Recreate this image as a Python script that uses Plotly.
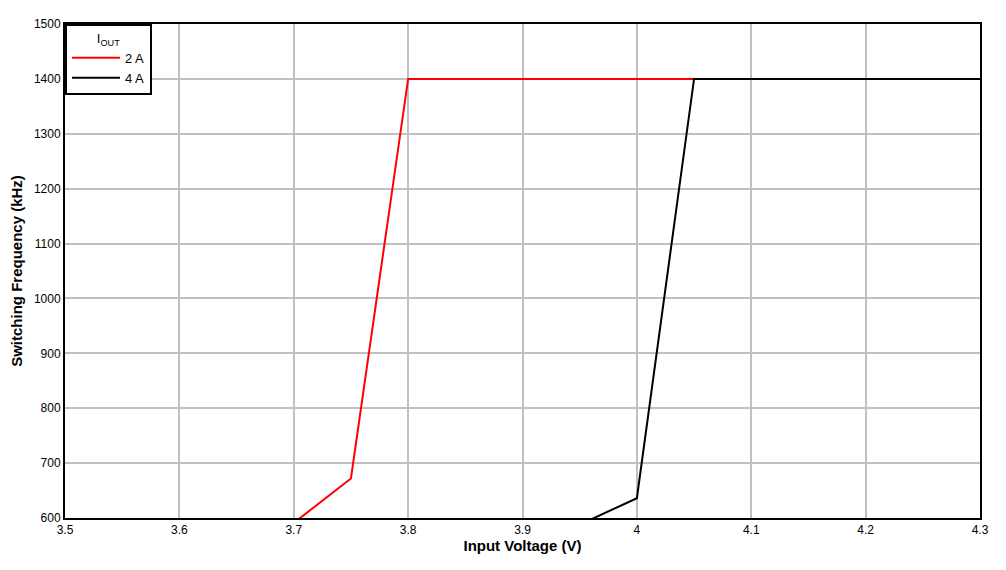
import plotly.graph_objects as go

x_2a = [3.70, 3.75, 3.80, 4.05, 4.30]
y_2a = [591, 672, 1400, 1400, 1400]
x_4a = [3.95, 4.00, 4.05, 4.30]
y_4a = [588, 636, 1400, 1400]

x_ticks = [3.5, 3.6, 3.7, 3.8, 3.9, 4.0, 4.1, 4.2, 4.3]
x_tick_labels = ["3.5", "3.6", "3.7", "3.8", "3.9", "4", "4.1", "4.2", "4.3"]
y_ticks = [600, 700, 800, 900, 1000, 1100, 1200, 1300, 1400, 1500]

fig = go.Figure()
fig.add_trace(go.Scatter(x=x_2a, y=y_2a, mode="lines", name="2 A",
                         line=dict(color="#ff0000", width=2)))
fig.add_trace(go.Scatter(x=x_4a, y=y_4a, mode="lines", name="4 A",
                         line=dict(color="#000000", width=2)))

fig.update_layout(
    width=990, height=554,
    margin=dict(l=57, r=18, t=16, b=44),
    paper_bgcolor="white", plot_bgcolor="white",
    font=dict(family="Liberation Sans, Arial, sans-serif", size=12, color="black"),
    showlegend=True,
    legend=dict(
        x=0, y=1, xanchor="left", yanchor="top",
        bgcolor="white", bordercolor="black", borderwidth=2,
        title=dict(text="I<sub>OUT</sub>", side="top center", font=dict(size=13)),
        font=dict(size=13),
        itemwidth=48, tracegroupgap=0,
    ),
    xaxis=dict(
        range=[3.5, 4.3], tickvals=x_ticks, ticktext=x_tick_labels,
        showgrid=True, gridcolor="#c0c0c0", gridwidth=2,
        showline=True, linecolor="black", linewidth=2, mirror=True,
        ticks="", zeroline=False, tickfont=dict(size=12), automargin=False,
        title=dict(text="<b>Input Voltage (V)</b>", font=dict(size=15), standoff=4),
    ),
    yaxis=dict(
        range=[600, 1500], tickvals=y_ticks,
        showgrid=True, gridcolor="#c0c0c0", gridwidth=2,
        showline=True, linecolor="black", linewidth=2, mirror=True,
        ticks="", zeroline=False, tickfont=dict(size=12), automargin=False,
        title=dict(text="<b>Switching Frequency (kHz)</b>", font=dict(size=15), standoff=20),
    ),
)

fig.write_html("out.html")
